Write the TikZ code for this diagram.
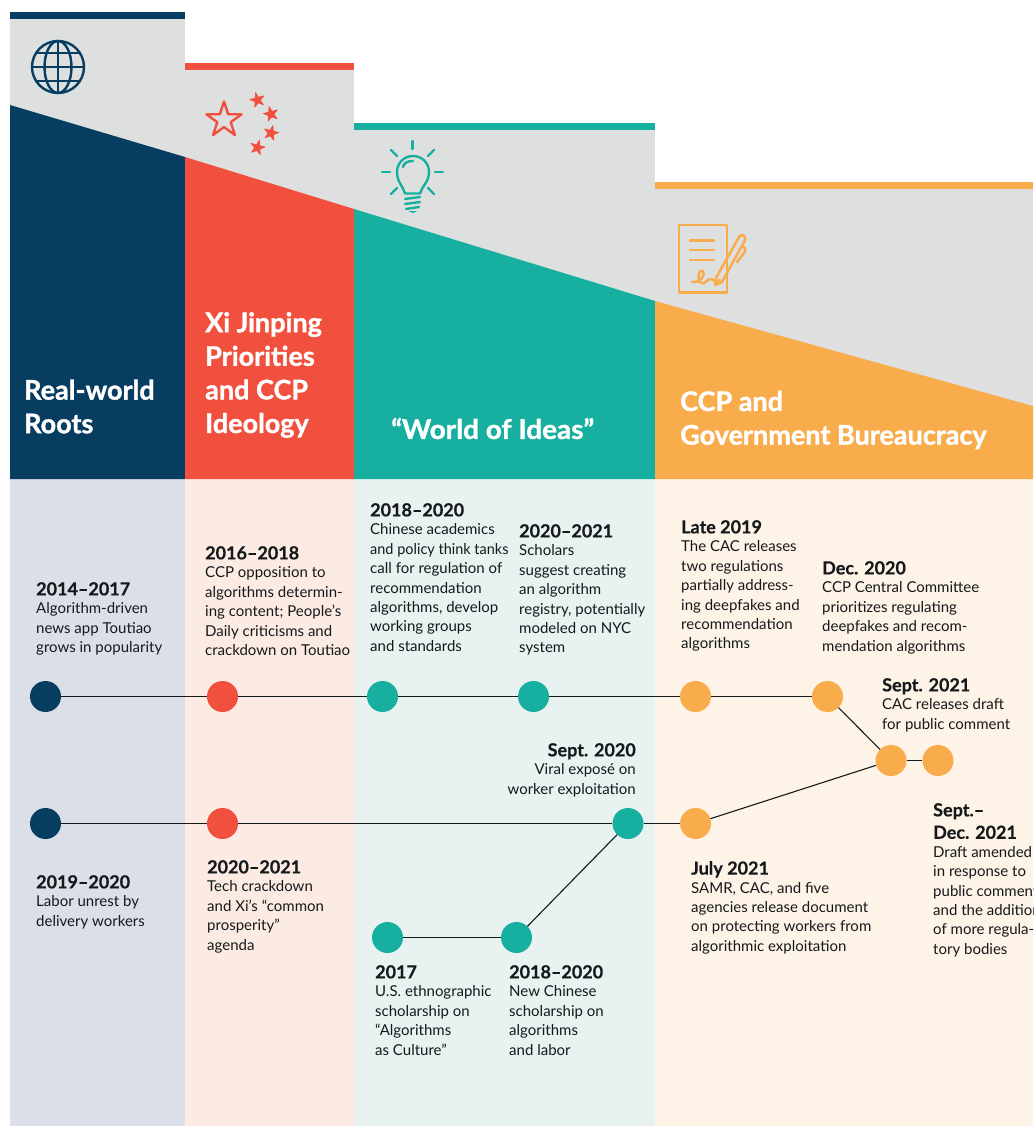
\documentclass[tikz,border=0pt]{standalone}
\usepackage{fontspec}
\setmainfont{Lato}
\newfontfamily\headf[FakeBold=1.2]{Lato}
\newfontfamily\yearf[FakeBold=0.3]{Lato}
\definecolor{navy}{HTML}{063D60}
\definecolor{redc}{HTML}{F1503F}
\definecolor{teal}{HTML}{16AFA0}
\definecolor{orangec}{HTML}{F9AC4C}
\definecolor{grayc}{HTML}{DEE0DF}
\definecolor{lnavy}{HTML}{DBDFE7}
\definecolor{lred}{HTML}{FCEBE3}
\definecolor{lteal}{HTML}{E8F2F0}
\definecolor{lorange}{HTML}{FEF3E7}
\definecolor{ink}{HTML}{16191C}
\tikzset{
 x=1pt,y=-1pt,
 dot/.style={circle,minimum size=31pt,inner sep=0pt,fill=#1},
 link/.style={draw=ink,line width=1.1pt},
 head/.style={anchor=west,inner sep=0pt,align=left,text=white,font=\fontsize{27}{33.6}\headf\bfseries},
 note/.style={anchor=north west,inner sep=0pt,align=left,text=ink,font=\fontsize{15}{19.4}\selectfont},
 notr/.style={anchor=north east,inner sep=0pt,align=right,text=ink,font=\fontsize{15}{19.4}\selectfont},
}
\newcommand{\yr}[1]{{\fontsize{18}{22}\yearf\bfseries #1}}
\newcommand{\starpath}[3]{% cx cy r
 (#1+0*#3,#2-1*#3) -- (#1+0.2245*#3,#2-0.309*#3) -- (#1+0.951*#3,#2-0.309*#3) -- (#1+0.363*#3,#2+0.118*#3) -- (#1+0.588*#3,#2+0.809*#3) -- (#1+0*#3,#2+0.382*#3) -- (#1-0.588*#3,#2+0.809*#3) -- (#1-0.363*#3,#2+0.118*#3) -- (#1-0.951*#3,#2-0.309*#3) -- (#1-0.2245*#3,#2-0.309*#3) -- cycle}
\begin{document}
\begin{tikzpicture}
\useasboundingbox (0,0) rectangle (1033,1126);
% light columns
\fill[lnavy] (10,479) rectangle (185,1126);
\fill[lred] (185,479) rectangle (354,1126);
\fill[lteal] (354,479) rectangle (655,1126);
\fill[lorange] (655,479) rectangle (1033,1126);
% gray tops
\fill[grayc] (10,18) rectangle (185,160);
\fill[grayc] (185,70) rectangle (354,212);
\fill[grayc] (354,130) rectangle (655,304);
\fill[grayc] (655,189) rectangle (1033,410);
% bars
\fill[navy] (10,12) rectangle (185,19);
\fill[redc] (185,63) rectangle (354,70);
\fill[teal] (354,123) rectangle (655,130);
\fill[orangec] (655,182) rectangle (1033,189);
% colour blocks
\fill[navy] (10,105) -- (185,157) -- (185,479) -- (10,479) -- cycle;
\fill[redc] (185,157) -- (354,209) -- (354,479) -- (185,479) -- cycle;
\fill[teal] (354,209) -- (655,301) -- (655,479) -- (354,479) -- cycle;
\fill[orangec] (655,301) -- (1033,406) -- (1033,479) -- (655,479) -- cycle;
% globe
\begin{scope}[navy,line width=2.4pt]
\draw (58,67) circle (26);
\draw (58,67) ellipse (13.5 and 26);
\draw (58,41) -- (58,93);
\draw (32,67) -- (84,67);
\draw (36.5,53) -- (79.5,53);
\draw (36.5,81) -- (79.5,81);
\end{scope}
% stars
\draw[redc,line width=2.4pt,line join=round] \starpath{224}{120}{18.5};
\fill[redc,draw=redc,line width=0.8pt,line join=round,rotate around={15:(257.5,100)}] \starpath{257.5}{100}{7.5};
\fill[redc,draw=redc,line width=0.8pt,line join=round,rotate around={15:(271,114)}] \starpath{271}{114}{7.5};
\fill[redc,draw=redc,line width=0.8pt,line join=round,rotate around={-15:(271,133)}] \starpath{271}{133}{7.5};
\fill[redc,draw=redc,line width=0.8pt,line join=round,rotate around={-15:(257.5,147.5)}] \starpath{257.5}{147.5}{7.5};
% bulb
\begin{scope}[teal,line width=2.4pt,line cap=round,line join=round]
\draw (412.5,141) -- (412.5,149);
\draw (391,150) -- (397,156);
\draw (434,150) -- (428,156);
\draw (382,172) -- (390,172);
\draw (435,172) -- (443,172);
\draw (391,194) -- (397,188);
\draw (434,194) -- (428,188);
\draw (405,193.5) .. controls (403,186) and (397,182) .. (397,172) .. controls (397,163) and (404,156) .. (413,156) .. controls (422,156) and (429,163) .. (429,172) .. controls (429,182) and (422,186) .. (420,193.5) -- cycle;
\draw (403,167) .. controls (404,163) and (407,161) .. (413,161);
\draw (405,199) -- (420,197);
\draw (405,204) -- (420,202);
\draw (406,209) -- (419,207);
\fill (408,211) -- (417,211) -- (413,213) -- cycle;
\end{scope}
% document and pen
\begin{scope}[orangec,line width=2.5pt,line cap=round,line join=round]
\draw (679,225) rectangle (727,292.5);
\draw (690,240.5) -- (714,240.5);
\draw (690,250) -- (714,250);
\draw (690,260) -- (714,260);
\draw (692,282) .. controls (700,283) and (706,275) .. (703,271) .. controls (699,268) and (696,280) .. (701,283) .. controls (705,285) and (708,278) .. (711,279) .. controls (714,280) and (716,283) .. (720,280);
\draw (716,278) -- (739,237) .. controls (741,233) and (747,236) .. (745,240) -- (722,282) -- (715,285) -- cycle;
\draw (742,246) .. controls (746,248) and (746,250) .. (744,253) -- (737,262);
\end{scope}
% headings
\node[head] (h1) at (24,406.5) {Real-world\\Roots};
\node[head] (h2) at (205,375) {Xi Jinping\\Priorities\\and CCP\\Ideology};
\node[head] (h3) at (391,428.5) {\scalebox{1.035}[1]{“World of Ideas”}};
\node[head] (h4) at (680,420) {CCP and\\Government Bureaucracy};
% dots
\node[dot=navy] (a1) at (45.5,696.5) {};
\node[dot=redc] (a2) at (222.5,696.5) {};
\node[dot=teal] (a3) at (382.5,696.5) {};
\node[dot=teal] (a4) at (533.5,696.5) {};
\node[dot=orangec] (a5) at (695.5,696.5) {};
\node[dot=orangec] (a6) at (827.5,696.5) {};
\node[dot=orangec] (m1) at (891,760.5) {};
\node[dot=orangec] (m2) at (938,760.5) {};
\node[dot=navy] (b1) at (45.5,823.5) {};
\node[dot=redc] (b2) at (222.5,823.5) {};
\node[dot=teal] (b3) at (628,823.5) {};
\node[dot=orangec] (b4) at (695.5,823.5) {};
\node[dot=teal] (c1) at (387.5,937.5) {};
\node[dot=teal] (c2) at (516.5,937.5) {};
% connectors
\draw[link] (a1)--(a2);
\draw[link] (a2)--(a3);
\draw[link] (a3)--(a4);
\draw[link] (a4)--(a5);
\draw[link] (a5)--(a6);
\draw[link] (a6)--(m1);
\draw[link] (m1)--(m2);
\draw[link] (b1)--(b2);
\draw[link] (b2)--(b3);
\draw[link] (b3)--(b4);
\draw[link] (b4)--(m1);
\draw[link] (c1)--(c2);
\draw[link] (c2)--(b3);
% notes
\node[note] (t1) at (36,582) {\yr{2014–2017}\\[-0.8pt]Algorithm-driven\\news app Toutiao\\grows in popularity};
\node[note] (t2) at (205,546) {\yr{2016–2018}\\[-0.8pt]CCP opposition to\\algorithms determin-\\ing content; People's\\Daily criticisms and\\crackdown on Toutiao};
\node[note] (t3) at (370,503) {\yr{2018–2020}\\[-0.8pt]Chinese academics\\\scalebox{0.965}[1]{and policy think tanks}\\call for regulation of\\recommendation\\algorithms, develop\\working groups\\and standards};
\node[note] (t4) at (519,524) {\yr{2020–2021}\\[-0.8pt]Scholars\\suggest creating\\an algorithm\\registry, potentially\\modeled on NYC\\system};
\node[note] (t5) at (681,520) {\yr{Late 2019}\\[-0.8pt]The CAC releases\\two regulations\\partially address-\\ing deepfakes and\\recommendation\\algorithms};
\node[note] (t6) at (822,561) {\yr{Dec. 2020}\\[-0.8pt]CCP Central Committee\\prioritizes regulating\\deepfakes and recom-\\mendation algorithms};
\node[note] (t7) at (882,678) {\yr{Sept. 2021}\\[-0.8pt]CAC releases draft\\for public comment};
\node[notr] (t8) at (636,743) {\yr{Sept. 2020}\\[-0.8pt]Viral exposé on\\worker exploitation};
\node[note] (t9) at (36,875) {\yr{2019–2020}\\[-0.8pt]Labor unrest by\\delivery workers};
\node[note] (t10) at (207,860) {\yr{2020–2021}\\[-0.8pt]Tech crackdown\\and Xi's “common\\prosperity”\\agenda};
\node[note] (t11) at (375,965) {\yr{2017}\\[-0.8pt]U.S. ethnographic\\scholarship on\\“Algorithms\\as Culture”};
\node[note] (t12) at (509,965) {\yr{2018–2020}\\[-0.8pt]New Chinese\\scholarship on\\algorithms\\and labor};
\node[note] (t13) at (691,861) {\yr{July 2021}\\[-0.8pt]SAMR, CAC, and five\\agencies release document\\on protecting workers from\\algorithmic exploitation};
\begin{scope}
\clip (0,0) rectangle (1033,1126);
\node[note] (t14) at (933,803) {\yr{Sept.–}\\[3pt]\yr{Dec. 2021}\\[-0.8pt]Draft amended\\in response to\\public comment\\and the addition\\of more regula-\\tory bodies};
\end{scope}
\end{tikzpicture}
\end{document}
